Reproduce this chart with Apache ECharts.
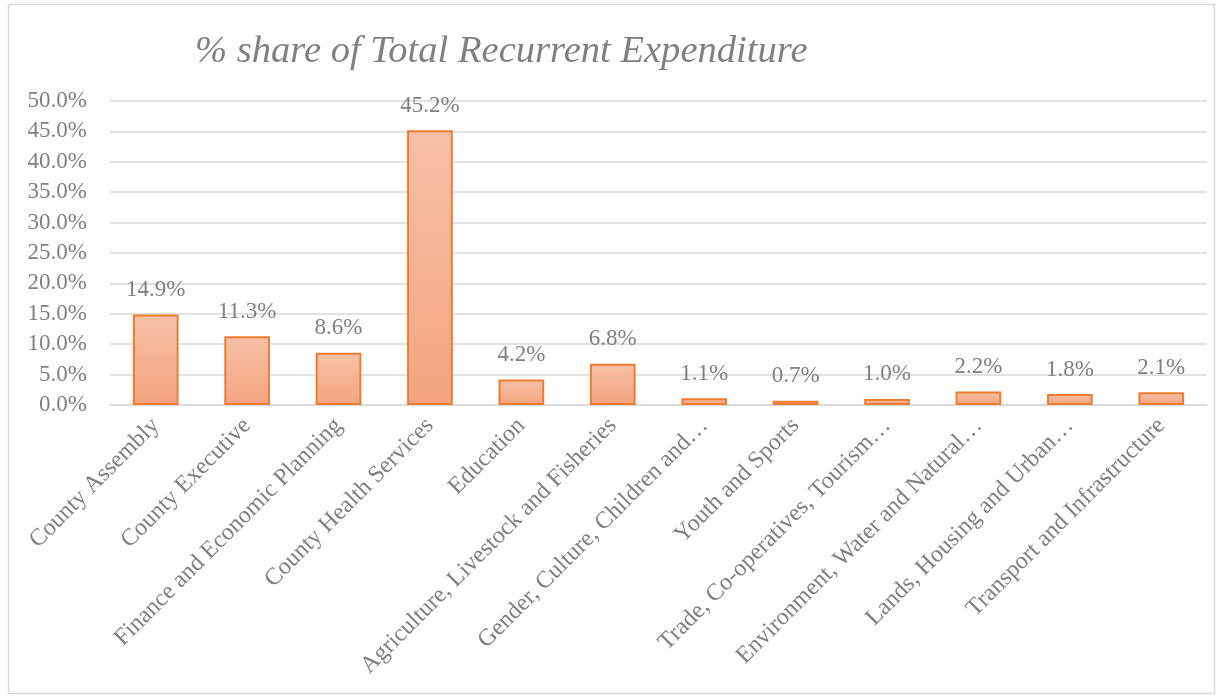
<!DOCTYPE html>
<html>
<head>
<meta charset="utf-8">
<script src="https://cdn.jsdelivr.net/npm/echarts@6/dist/echarts.min.js"></script>
<style>
  html, body { margin: 0; padding: 0; background: #fff; }
  #main { width: 1222px; height: 698px; }
</style>
</head>
<body>
<div id="main"></div>
<script>
var categories = ['County Assembly', 'County Executive', 'Finance and Economic Planning',
    'County Health Services', 'Education', 'Agriculture, Livestock and Fisheries',
    'Gender, Culture, Children and\u2026', 'Youth and Sports', 'Trade, Co-operatives, Tourism\u2026',
    'Environment, Water and Natural\u2026', 'Lands, Housing and Urban\u2026', 'Transport and Infrastructure'];
var shares = [14.9, 11.3, 8.6, 45.2, 4.2, 6.8, 1.1, 0.7, 1.0, 2.2, 1.8, 2.1];

var textGray = '#808080';
var serif = '"Liberation Serif", "Times New Roman", serif';

var chart = echarts.init(document.getElementById('main'));
var option = {
    backgroundColor: '#fff',
    title: {
        text: '% share of Total Recurrent Expenditure',
        left: 190,
        top: 27,
        textStyle: {
            fontFamily: serif,
            fontStyle: 'italic',
            fontWeight: 'normal',
            fontSize: 38.6,
            color: textGray
        }
    },
    graphic: [{
        type: 'rect',
        shape: { x: 8.5, y: 4.5, width: 1206, height: 689 },
        style: { fill: 'none', stroke: '#d9d9d9', lineWidth: 1.5 },
        silent: true
    }],
    grid: {
        left: 110,
        right: 15,
        top: 101,
        bottom: 293
    },
    xAxis: {
        type: 'category',
        data: categories,
        axisLine: { lineStyle: { color: '#d9d9d9', width: 1.5 } },
        axisTick: { show: false },
        axisLabel: {
            interval: 0,
            rotate: 45,
            margin: 17,
            fontFamily: serif,
            fontSize: 24,
            color: textGray
        }
    },
    yAxis: {
        type: 'value',
        min: 0,
        max: 50,
        interval: 5,
        axisLine: { show: false },
        axisTick: { show: false },
        splitLine: { lineStyle: { color: '#d9d9d9', width: 1.5 } },
        axisLabel: {
            margin: 23,
            fontFamily: serif,
            fontSize: 23,
            color: textGray,
            formatter: function (v) { return v.toFixed(1) + '%'; }
        }
    },
    series: [{
        name: '% share',
        type: 'bar',
        barWidth: '50%',
        data: shares,
        itemStyle: {
            color: new echarts.graphic.LinearGradient(0, 0, 0, 1, [
                { offset: 0, color: '#f7c0a6' },
                { offset: 1, color: '#f3a47f' }
            ]),
            borderColor: '#ed7d31',
            borderWidth: 2
        },
        label: {
            show: true,
            position: 'top',
            distance: 13,
            fontFamily: serif,
            fontSize: 23,
            color: textGray,
            formatter: function (p) { return p.value.toFixed(1) + '%'; }
        }
    }]
};
chart.setOption(option);
</script>
</body>
</html>
